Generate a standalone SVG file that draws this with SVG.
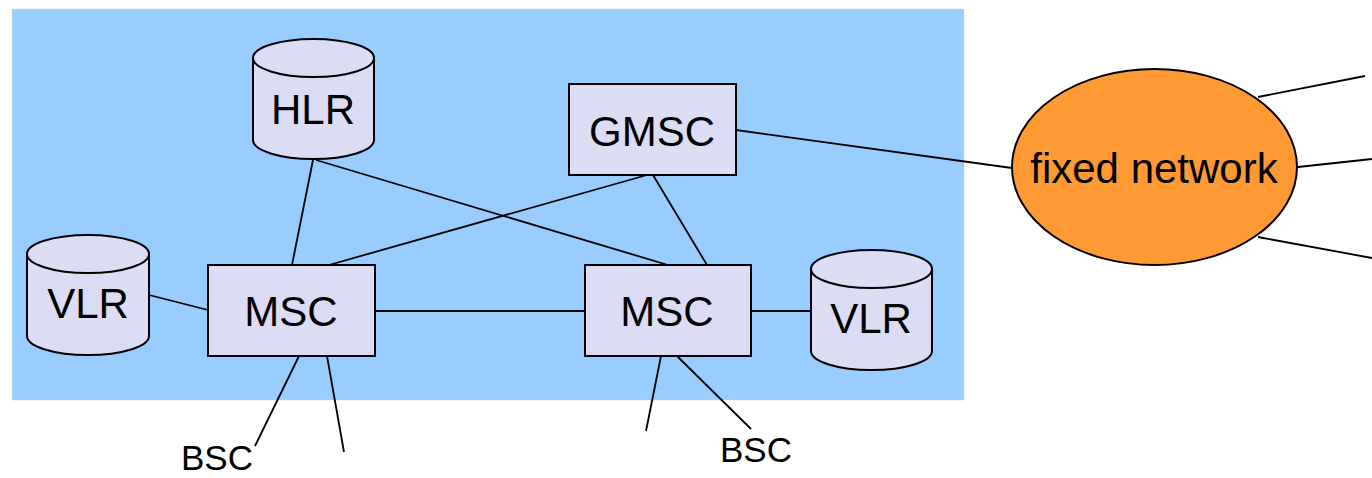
<svg xmlns="http://www.w3.org/2000/svg" width="1372" height="478" viewBox="0 0 1372 478">
<style>
.node{fill:#DCDCF5;stroke:#000;stroke-width:2}
.lbl{font-family:"Liberation Sans",Arial,sans-serif;font-size:42px;fill:#000;text-anchor:middle}
.bsc{font-family:"Liberation Sans",Arial,sans-serif;font-size:35px;fill:#000}
.conn line{stroke:#000;stroke-width:1.8}
</style>
<rect x="0" y="0" width="1372" height="478" fill="#fff"/>
<rect id="area" x="12" y="9" width="952" height="391" fill="#99CCFF" stroke="#C8D8F0" stroke-width="1" stroke-dasharray="2,2"/>
<g class="conn" id="connectors">
<line x1="313" y1="160" x2="292" y2="265"/>
<line x1="316" y1="160" x2="668" y2="265"/>
<line x1="647" y1="175" x2="329" y2="265"/>
<line x1="653" y1="175" x2="707" y2="265"/>
<line x1="736" y1="130" x2="1012" y2="168"/>
<line x1="149" y1="295" x2="208" y2="310"/>
<line x1="375" y1="311" x2="585" y2="311"/>
<line x1="751" y1="311" x2="811" y2="311"/>
<line x1="299" y1="356" x2="255" y2="446"/>
<line x1="327" y1="356" x2="344" y2="452"/>
<line x1="661" y1="356" x2="646" y2="431"/>
<line x1="677" y1="356" x2="751" y2="429"/>
<line x1="1258" y1="97" x2="1365" y2="76"/>
<line x1="1298" y1="167" x2="1372" y2="159"/>
<line x1="1258" y1="237" x2="1372" y2="258"/>
</g>
<g id="hlr">
<path class="node" d="M253,58 L253,140 A60.5,19 0 0 0 374,140 L374,58 Z"/>
<ellipse class="node" cx="313.5" cy="58" rx="60.5" ry="19"/>
<text class="lbl" x="313" y="124">HLR</text>
</g>
<g id="gmsc">
<rect class="node" x="569" y="84" width="167" height="91"/>
<text class="lbl" x="652" y="146">GMSC</text>
</g>
<g id="vlr-left">
<path class="node" d="M27,254 L27,336 A61,19 0 0 0 149,336 L149,254 Z"/>
<ellipse class="node" cx="88" cy="254" rx="61" ry="19"/>
<text class="lbl" x="88" y="318">VLR</text>
</g>
<g id="msc-left">
<rect class="node" x="208" y="265" width="167" height="91"/>
<text class="lbl" x="291" y="326">MSC</text>
</g>
<g id="msc-right">
<rect class="node" x="585" y="265" width="166" height="91"/>
<text class="lbl" x="667" y="326">MSC</text>
</g>
<g id="vlr-right">
<path class="node" d="M811,269 L811,351 A60.5,19 0 0 0 932,351 L932,269 Z"/>
<ellipse class="node" cx="871.5" cy="269" rx="60.5" ry="19"/>
<text class="lbl" x="871" y="333">VLR</text>
</g>
<g id="fixed-network">
<ellipse cx="1154.5" cy="167" rx="142.5" ry="98" fill="#FF9933" stroke="#000" stroke-width="2"/>
<text class="lbl" x="1154" y="183">fixed network</text>
</g>
<g id="bsc-left"><text class="bsc" x="181" y="470">BSC</text></g>
<g id="bsc-right"><text class="bsc" x="720" y="462">BSC</text></g>
</svg>
